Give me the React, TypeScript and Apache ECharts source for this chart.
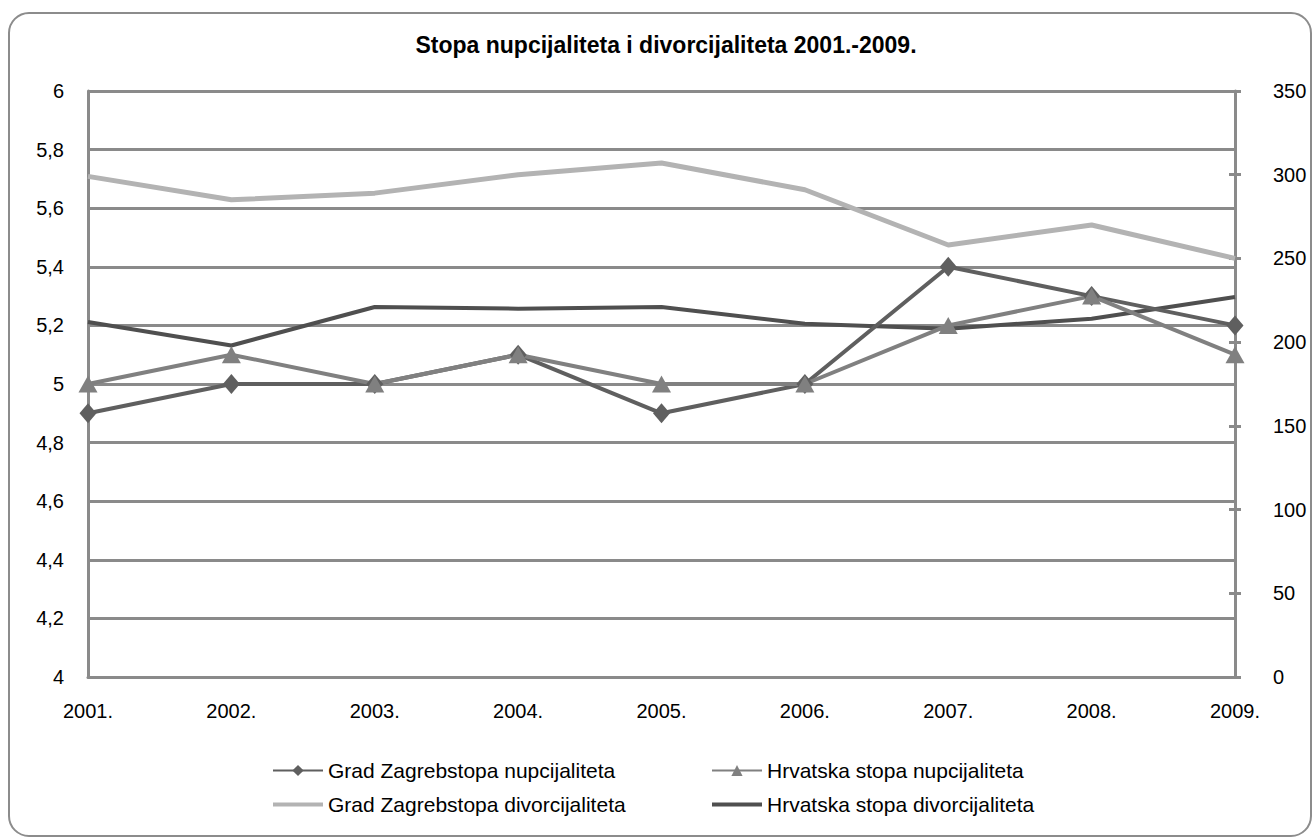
import React, { useEffect, useRef } from 'react';
import * as echarts from 'echarts';

const TITLE = 'Stopa nupcijaliteta i divorcijaliteta 2001.-2009.';
const years = ['2001.', '2002.', '2003.', '2004.', '2005.', '2006.', '2007.', '2008.', '2009.'];

const nameZN = 'Grad Zagrebstopa nupcijaliteta';
const nameHN = 'Hrvatska stopa nupcijaliteta';
const nameZD = 'Grad Zagrebstopa divorcijaliteta';
const nameHD = 'Hrvatska stopa divorcijaliteta';

const zagrebNup = [4.9, 5.0, 5.0, 5.1, 4.9, 5.0, 5.4, 5.3, 5.2];
const hrvatskaNup = [5.0, 5.1, 5.0, 5.1, 5.0, 5.0, 5.2, 5.3, 5.1];
const zagrebDiv = [299, 285, 289, 300, 307, 291, 258, 270, 250];
const hrvatskaDiv = [212, 198, 221, 220, 221, 211, 208, 214, 227];

const leftMin = 4;
const leftMax = 6;
const leftStep = 0.2;
const rightMin = 0;
const rightMax = 350;
const rightStep = 50;

export default function App() {
  const ref = useRef<HTMLDivElement>(null);

  useEffect(() => {
    if (!ref.current) return;
    const chart = echarts.init(ref.current, null, { renderer: 'svg' });
    const font = "'Liberation Sans', Arial, sans-serif";
    const gridColor = '#8a8a8a';
    const cZN = '#5f5f5f';
    const cHN = '#808080';
    const cZD = '#b3b3b3';
    const cHD = '#4f4f4f';
    const lineIcon = 'path://M0,0H50V4H0Z';

    const legendCommon = {
      orient: 'vertical' as const,
      top: 760,
      padding: 0,
      itemWidth: 50,
      itemHeight: 14,
      itemGap: 13,
      textStyle: { fontSize: 21, color: '#000', fontFamily: font },
    };

    chart.setOption({
      animation: false,
      textStyle: { fontFamily: font },
      title: {
        text: TITLE,
        left: 666,
        top: 33,
        textAlign: 'center',
        padding: 0,
        textStyle: { fontSize: 23, fontWeight: 'bold', color: '#000', fontFamily: font },
      },
      graphic: [
        {
          type: 'rect',
          silent: true,
          shape: { x: 9, y: 13, width: 1302, height: 823, r: 20 },
          style: { fill: 'none', stroke: '#8c8c8c', lineWidth: 2 },
        },
      ],
      grid: { left: 88, right: 79, top: 91, bottom: 161 },
      legend: [
        {
          ...legendCommon,
          left: 272,
          data: [{ name: nameZN }, { name: nameZD, icon: lineIcon }],
        },
        {
          ...legendCommon,
          left: 711,
          data: [{ name: nameHN }, { name: nameHD, icon: lineIcon }],
        },
      ],
      xAxis: {
        type: 'category',
        data: years,
        boundaryGap: false,
        axisLine: { show: true, lineStyle: { color: gridColor, width: 3 } },
        axisTick: { show: false },
        splitLine: { show: false },
        axisLabel: { color: '#000', fontSize: 20, margin: 24, fontFamily: font },
      },
      yAxis: [
        {
          type: 'value',
          min: leftMin,
          max: leftMax,
          interval: leftStep,
          position: 'left',
          axisLine: { show: true, lineStyle: { color: gridColor, width: 3 } },
          axisTick: { show: false },
          splitLine: { show: true, lineStyle: { color: gridColor, width: 3 } },
          axisLabel: {
            color: '#000',
            fontSize: 20,
            margin: 24,
            fontFamily: font,
            formatter: (v: number) => String(Math.round(v * 10) / 10).replace('.', ','),
          },
        },
        {
          type: 'value',
          min: rightMin,
          max: rightMax,
          interval: rightStep,
          position: 'right',
          axisLine: { show: true, lineStyle: { color: gridColor, width: 3 } },
          axisTick: { show: true, length: 6, lineStyle: { color: gridColor, width: 3 } },
          splitLine: { show: false },
          axisLabel: { color: '#000', fontSize: 20, margin: 38, fontFamily: font },
        },
        {
          type: 'value',
          min: rightMin,
          max: rightMax,
          interval: rightStep,
          position: 'right',
          axisLine: { show: false },
          axisTick: { show: true, inside: true, length: 6, lineStyle: { color: gridColor, width: 3 } },
          splitLine: { show: false },
          axisLabel: { show: false },
        },
      ],
      series: [
        {
          name: nameZN,
          type: 'line',
          yAxisIndex: 0,
          data: zagrebNup,
          symbol: 'diamond',
          symbolSize: [17, 20],
          color: cZN,
          itemStyle: { color: cZN },
          lineStyle: { color: cZN, width: 4 },
          z: 3,
        },
        {
          name: nameHN,
          type: 'line',
          yAxisIndex: 0,
          data: hrvatskaNup,
          symbol: 'triangle',
          symbolSize: [19, 17],
          color: cHN,
          itemStyle: { color: cHN },
          lineStyle: { color: cHN, width: 4 },
          z: 3,
        },
        {
          name: nameZD,
          type: 'line',
          yAxisIndex: 1,
          data: zagrebDiv,
          symbol: 'none',
          color: cZD,
          itemStyle: { color: cZD },
          lineStyle: { color: cZD, width: 5 },
          z: 2,
        },
        {
          name: nameHD,
          type: 'line',
          yAxisIndex: 1,
          data: hrvatskaDiv,
          symbol: 'none',
          color: cHD,
          itemStyle: { color: cHD },
          lineStyle: { color: cHD, width: 4 },
          z: 2,
        },
      ],
    });

    return () => {
      chart.dispose();
    };
  }, []);

  return (
    <div
      ref={ref}
      style={{ position: 'absolute', left: 0, top: 0, width: 1314, height: 838, background: '#fff' }}
    />
  );
}
